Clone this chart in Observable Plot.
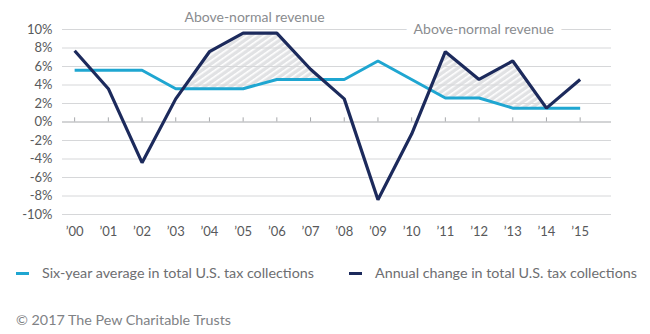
<!DOCTYPE html>
<html>
<head>
<meta charset="utf-8">
<script src="https://cdn.jsdelivr.net/npm/d3@7"></script>
<script src="https://cdn.jsdelivr.net/npm/@observablehq/plot@0.6"></script>
<style>
  html, body { margin: 0; padding: 0; background: #fff; }
  body { font-family: Lato, "Open Sans", sans-serif; }
  #wrap { position: relative; width: 650px; height: 334px; overflow: hidden; }
  #chart svg { display: block; }
  .legend { position: absolute; top: 263px; left: 0; width: 650px; height: 20px; font-size: 14.3px; color: #6d6e71; }
  .item { position: absolute; top: 0; height: 20px; line-height: 20px; white-space: nowrap; }
  .sw { display: inline-block; width: 13px; height: 3px; vertical-align: middle; margin-right: 13px; position: relative; top: -1px; }
  .caption { position: absolute; top: 310px; left: 16px; font-size: 14.3px; line-height: 20px; color: #808285; }
</style>
</head>
<body>
<div id="wrap">
  <div id="chart"></div>
  <div class="legend" id="legend"></div>
  <div class="caption">© 2017 The Pew Charitable Trusts</div>
</div>
<script>
// ---- data ----
const years = [2000, 2001, 2002, 2003, 2004, 2005, 2006, 2007, 2008, 2009, 2010, 2011, 2012, 2013, 2014, 2015];
const yearLabels = ["’00", "’01", "’02", "’03", "’04", "’05", "’06", "’07", "’08", "’09", "’10", "’11", "’12", "’13", "’14", "’15"];
const sixYearAverage = [5.6, 5.6, 5.6, 3.6, 3.6, 3.6, 4.6, 4.6, 4.6, 6.6, 4.6, 2.6, 2.6, 1.5, 1.5, 1.5];
const annualChange = [7.7, 3.6, -4.4, 2.5, 7.6, 9.6, 9.6, 5.7, 2.5, -8.4, -1.3, 7.6, 4.6, 6.6, 1.5, 4.6];
const yTicks = [-10, -8, -6, -4, -2, 0, 2, 4, 6, 8, 10];
const aboveNormalPeriods = [[2003, 2008], [2010, 2014]];
const annotationLabel = "Above-normal revenue";
const seriesNames = ["Six-year average in total U.S. tax collections", "Annual change in total U.S. tax collections"];
const seriesColors = ["#1fa6d1", "#1c2a5c"];

// ---- build table ----
const rows = years.map((year, i) => ({year, avg: sixYearAverage[i], annual: annualChange[i]}));
const hatchRows = [];
aboveNormalPeriods.forEach(([a, b], k) => {
  rows.filter(r => r.year >= a && r.year <= b).forEach(r => hatchRows.push({...r, period: k}));
});

const plot = Plot.plot({
  width: 650,
  height: 250,
  marginLeft: 62,
  marginRight: 39,
  marginTop: 29,
  marginBottom: 36,
  style: {fontFamily: "Lato, 'Open Sans', sans-serif", fontSize: "13px", color: "#58595b", background: "#fff"},
  x: {type: "linear", domain: [1999.64, 2015.93], axis: null, label: null},
  y: {domain: [-10, 10], axis: null, label: null},
  marks: [
    // hatched region between the lines (clipped later to above the average)
    Plot.areaY(hatchRows, {x: "year", y1: "avg", y2: "annual", z: "period", fill: "url(#hatch)", curve: "linear", ariaDescription: "hatch"}),
    Plot.areaY(rows, {x: "year", y1: "avg", y2: 14, fill: "black", curve: "linear", ariaDescription: "clip"}),
    // gridlines
    Plot.ruleY(yTicks.filter(d => d !== 0), {y: d => d, stroke: "#d6d7d9", strokeWidth: 1}),
    Plot.ruleY([0], {stroke: "#a7a9ac", strokeWidth: 1}),
    Plot.ruleX(years, {x: d => d, y1: 0, y2: 0.45, stroke: "#a7a9ac", strokeWidth: 1}),
    // axes
    Plot.axisY(yTicks, {tickSize: 0, tickPadding: 10, label: null, tickFormat: d => d + "%", fontSize: 13, fill: "#58595b"}),
    Plot.axisX(years, {anchor: "bottom", tickSize: 0, tickPadding: 12, label: null, tickFormat: d => yearLabels[years.indexOf(d)], fontSize: 13, fill: "#58595b"}),
    // lines
    Plot.line(rows, {x: "year", y: "avg", stroke: seriesColors[0], strokeWidth: 3, strokeLinejoin: "miter", strokeLinecap: "butt"}),
    Plot.line(rows, {x: "year", y: "annual", stroke: seriesColors[1], strokeWidth: 3.2, strokeLinejoin: "miter", strokeLinecap: "butt"}),
    // annotations
    Plot.text([annotationLabel], {x: 2005.34, y: 11.3, text: d => d, fontSize: 14, fill: "#8a8c8f"}),
    Plot.text([annotationLabel], {x: 2012.14, y: 10.05, text: d => d, fontSize: 14, fill: "#8a8c8f", stroke: "#fff", strokeWidth: 16, paintOrder: "stroke"})
  ]
});

// pattern + clip
const svg = d3.select(plot);
const defs = svg.insert("defs", ":first-child");
const pat = defs.append("pattern")
  .attr("id", "hatch")
  .attr("patternUnits", "userSpaceOnUse")
  .attr("width", 5).attr("height", 5)
  .attr("patternTransform", "rotate(-35)");
pat.append("rect").attr("width", 5).attr("height", 5).attr("fill", "#e1e2e4");
pat.append("rect").attr("y", 0).attr("width", 5).attr("height", 1.6).attr("fill", "#ffffff");
const clipG = svg.select('g[aria-description="clip"]');
const clipD = clipG.select("path").attr("d");
const clipTransform = clipG.attr("transform");
const cp = defs.append("clipPath").attr("id", "aboveAvg").append("path").attr("d", clipD);
if (clipTransform) cp.attr("transform", clipTransform);
clipG.remove();
svg.select('g[aria-description="hatch"]').attr("clip-path", "url(#aboveAvg)");

document.getElementById("chart").appendChild(plot);

// legend
const lg = document.getElementById("legend");
const lefts = [16, 349];
seriesNames.forEach((name, i) => {
  const it = document.createElement("div");
  it.className = "item";
  it.style.left = lefts[i] + "px";
  const sw = document.createElement("span");
  sw.className = "sw";
  sw.style.background = seriesColors[i];
  it.appendChild(sw);
  it.appendChild(document.createTextNode(name));
  lg.appendChild(it);
});
</script>
</body>
</html>
